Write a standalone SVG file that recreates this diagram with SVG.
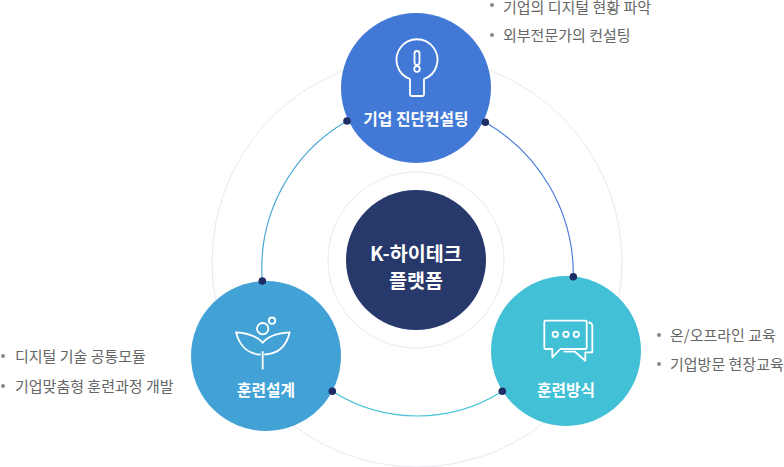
<svg xmlns="http://www.w3.org/2000/svg" width="784" height="467" viewBox="0 0 784 467">
<style>
text{font-family:"Noto Sans CJK KR","Noto Sans",sans-serif}
.t{fill:#fff;font-size:15.800px;font-weight:700;text-anchor:middle}
.c{fill:#fff;font-size:19.600px;font-weight:700;text-anchor:middle}
.l{fill:#666;font-size:15px}
.ring{fill:none;stroke:#e9e9ef;stroke-width:1}
.arc{fill:none;stroke-width:1.200}
.dot{fill:#1f2d66}
.b{fill:#888}
.i{fill:none;stroke:#fff;stroke-width:1.800;stroke-linejoin:round;stroke-linecap:round}
</style>
<g id="connectors">
<circle class="ring" cx="416" cy="260" r="88"/>
<circle class="ring" cx="417" cy="262" r="205"/>
<path class="arc" d="M347 121A170 170 0 0 0 262.300 281" stroke="#4aa8d6"/>
<path class="arc" d="M485.300 122.300A176 176 0 0 1 573.300 276.700" stroke="#4b7edb"/>
<path class="arc" d="M332.300 391.300A158.600 158.600 0 0 0 502.300 391.300" stroke="#41c0d6"/>
</g>
<g id="center"><circle cx="416" cy="260" r="70" fill="#27396b"/>
<text class="c" x="416" y="261">K-하이테크</text><text class="c" x="416" y="288">플랫폼</text></g>
<g id="node-top"><circle cx="416" cy="88" r="75" fill="#4379d6"/>
<path class="i" d="M410 79A20.500 20.500 0 1 1 424 79V94.500Q424 96 422.500 96H411.500Q410 96 410 94.500Z"/>
<rect class="i" x="414.500" y="51" width="5" height="14" rx="2.500"/><circle class="i" cx="417" cy="69" r="2.800"/>
<text class="t" x="416" y="125">기업 진단컨설팅</text></g>
<g id="node-left"><circle cx="266" cy="356" r="75" fill="#42a2d6"/>
<circle class="i" cx="262.700" cy="328.700" r="5.700"/><circle class="i" cx="272" cy="320.700" r="3.200"/>
<path class="i" d="M260 354.500C250 354 240 348 236 332.300C248 333 257 336 262.700 342.700C268 336 278 333 289.700 332.300C286 348 276 354 265 354.500M262.700 352V368.700"/>
<text class="t" x="266" y="396">훈련설계</text></g>
<g id="node-right"><circle cx="566" cy="351" r="75" fill="#41c0d6"/>
<path class="i" d="M545.500 320.700H585.500Q586.700 320.700 586.700 322V347.700Q586.700 349 585.500 349H560.300L552.300 357.300V349H545.500Q544.300 349 544.300 347.700V322Q544.300 320.700 545.500 320.700Z"/>
<path class="i" d="M589 322.500Q592.300 323 592.300 326V352.300H585.300V360.700L575 351.700H564.300"/>
<circle class="i" cx="555.300" cy="334.300" r="2.700"/><circle class="i" cx="566" cy="334.300" r="2.700"/><circle class="i" cx="576.300" cy="334.300" r="2.700"/>
<text class="t" x="566" y="396">훈련방식</text></g>
<g id="dots">
<circle class="dot" cx="347" cy="121" r="3.800"/><circle class="dot" cx="485.300" cy="122.300" r="3.800"/>
<circle class="dot" cx="573.300" cy="276.700" r="3.800"/><circle class="dot" cx="502.300" cy="391.300" r="3.800"/>
<circle class="dot" cx="332.300" cy="391.300" r="3.800"/><circle class="dot" cx="262.300" cy="281" r="3.800"/>
</g>
<g id="labels">
<circle class="b" cx="492" cy="5" r="2"/><text class="l" x="503" y="13">기업의 디지털 현황 파악</text>
<circle class="b" cx="492" cy="35" r="2"/><text class="l" x="503" y="41">외부전문가의 컨설팅</text>
<circle class="b" cx="3" cy="356" r="2"/><text class="l" x="15" y="362">디지털 기술 공통모듈</text>
<circle class="b" cx="3" cy="386" r="2"/><text class="l" x="15" y="392">기업맞춤형 훈련과정 개발</text>
<circle class="b" cx="659" cy="335" r="2"/><text class="l" x="670" y="341">온/오프라인 교육</text>
<circle class="b" cx="659" cy="364" r="2"/><text class="l" x="670" y="370">기업방문 현장교육</text>
</g>
</svg>
